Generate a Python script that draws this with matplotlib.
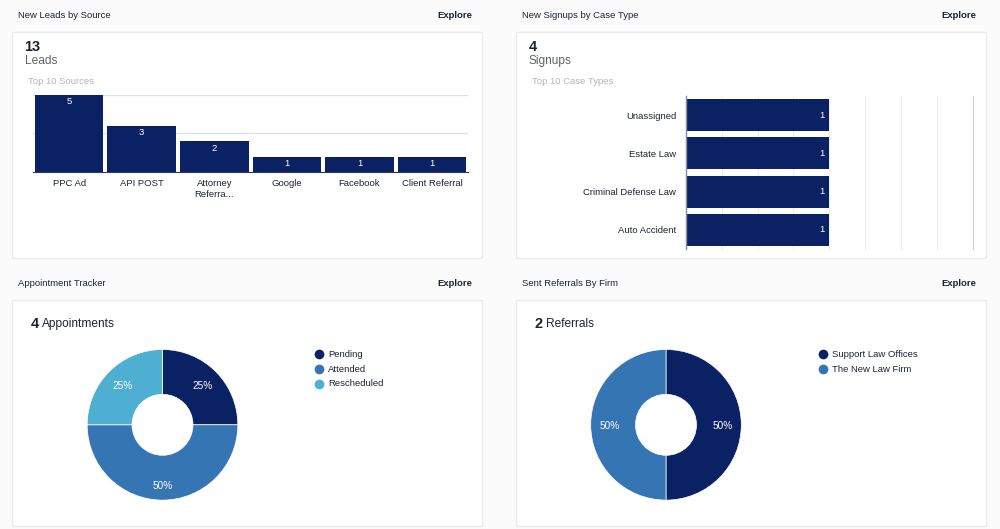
import matplotlib
matplotlib.use("Agg")
import matplotlib.pyplot as plt
from matplotlib.patches import Rectangle

plt.rcParams['font.family'] = ['Liberation Sans', 'DejaVu Sans']

lead_sources = ['PPC Ad', 'API POST', 'Attorney\nReferra...', 'Google', 'Facebook', 'Client Referral']
lead_values = [5, 3, 2, 1, 1, 1]
case_types = ['Unassigned', 'Estate Law', 'Criminal Defense Law', 'Auto Accident']
case_values = [1, 1, 1, 1]
appt_labels = ['Pending', 'Attended', 'Rescheduled']
appt_values = [25, 50, 25]
firm_labels = ['Support Law Offices', 'The New Law Firm']
firm_values = [50, 50]

NAVY = '#0a2163'
BLUE = '#3575b3'
SKY = '#4fafd3'
INK = '#1c2433'
FS = 6.8
W, H = 1000, 529

fig = plt.figure(figsize=(10, 5.29), dpi=100, facecolor='#fbfbfb')

def px_axes(x0, y0, x1, y1, **kw):
    return fig.add_axes([x0 / W, 1 - y1 / H, (x1 - x0) / W, (y1 - y0) / H], **kw)

bg = fig.add_axes([0, 0, 1, 1])
bg.set_xlim(0, W)
bg.set_ylim(H, 0)
bg.axis('off')

cards = [(11.5, 31.5, 482, 257.5), (515.5, 31.5, 985.5, 257.5), (11.5, 299.5, 482, 526), (515.5, 299.5, 985.5, 526)]
for x0, y0, x1, y1 in cards:
    bg.add_patch(Rectangle((x0, y0), x1 - x0, y1 - y0, fc='white', ec='#ebebeb', lw=1))

for x, y, t in [(18, 15, 'New Leads by Source'), (521.5, 15, 'New Signups by Case Type'),
                (18, 283, 'Appointment Tracker'), (521.5, 283, 'Sent Referrals By Firm')]:
    bg.text(x, y, t, fontsize=FS, color=INK, va='center', ha='left')
for x, y in [(472.5, 15), (976, 15), (472.5, 283), (976, 283)]:
    bg.text(x, y, 'Explore', fontsize=FS, color=INK, va='center', ha='right', fontweight='bold')

bg.text(24.5, 47.3, '13', fontsize=10.5, color=INK, va='center', fontweight='bold')
bg.text(25, 61.3, 'Leads', fontsize=8.6, color='#5f6368', va='center')
bg.text(28, 81.3, 'Top 10 Sources', fontsize=FS, color='#b5b5b5', va='center')
bg.text(528.5, 47.3, '4', fontsize=10.5, color=INK, va='center', fontweight='bold')
bg.text(528.5, 61.3, 'Signups', fontsize=8.6, color='#5f6368', va='center')
bg.text(532, 81.3, 'Top 10 Case Types', fontsize=FS, color='#b5b5b5', va='center')

bg.text(30.5, 323.5, '4', fontsize=10.5, color=INK, va='center', fontweight='bold')
bg.text(42, 323.7, 'Appointments', fontsize=8.6, color=INK, va='center')
bg.text(534.5, 323.5, '2', fontsize=10.5, color=INK, va='center', fontweight='bold')
bg.text(546, 323.7, 'Referrals', fontsize=8.6, color=INK, va='center')

# Column chart
ax = px_axes(32.8, 94.5, 468.3, 172.3)
ax.patch.set_alpha(0)
ax.bar(range(len(lead_values)), lead_values, width=0.945, color=NAVY, zorder=3)
ax.set_xlim(-0.5, 5.5)
ax.set_ylim(0, 5)
ax.set_yticks([0, 2.5, 5])
ax.set_yticklabels([])
ax.grid(axis='y', color='#e2e2e2', lw=1, zorder=0)
ax.tick_params(length=0)
for s in ['top', 'left', 'right']:
    ax.spines[s].set_visible(False)
ax.spines['bottom'].set_color('#333a47')
ax.spines['bottom'].set_linewidth(0.8)
ax.spines['bottom'].set_zorder(4)
ax.set_xticks(range(len(lead_sources)))
ax.set_xticklabels(lead_sources, fontsize=FS, color=INK, linespacing=1.2)
ax.tick_params(axis='x', pad=5)
for i, v in enumerate(lead_values):
    ax.annotate(str(v), (i, v), xytext=(0, -2.5), textcoords='offset pixels', ha='center', va='top',
                fontsize=FS, color='white', zorder=5)

# Horizontal bar chart
ax = px_axes(686, 96, 972.5, 249)
ax.patch.set_alpha(0)
ax.barh(range(len(case_values)), case_values, height=0.84, color=NAVY, zorder=3)
ax.set_xlim(0, 2)
ax.set_ylim(3.5, -0.5)
ax.set_xticks([0.25 * i for i in range(9)])
ax.set_xticklabels([])
ax.grid(axis='x', color='#ececec', lw=0.8, zorder=0, clip_on=False)
ax.get_xgridlines()[-1].set_color('#cfcfcf')
ax.tick_params(length=0)
for s in ['top', 'bottom', 'right']:
    ax.spines[s].set_visible(False)
ax.spines['left'].set_color('#8a8f98')
ax.spines['left'].set_linewidth(1)
ax.spines['left'].set_zorder(4)
ax.set_yticks(range(len(case_types)))
ax.set_yticklabels(case_types, fontsize=FS, color=INK)
ax.tick_params(axis='y', pad=7)
for i, v in enumerate(case_values):
    ax.annotate(str(v), (v, i), xytext=(-5, 0), textcoords='offset pixels', ha='right', va='center',
                fontsize=FS, color='white', zorder=5)

# Donuts
def donut(cx, values, colors, labels, legend_x):
    cy, r = 424.8, 75.3
    a = px_axes(cx - r, cy - r, cx + r, cy + r)
    _, _, pct = a.pie(values, colors=colors, startangle=90, counterclock=False, radius=1,
                      wedgeprops=dict(width=1 - 30.5 / r, edgecolor='white', linewidth=0.5),
                      autopct='%d%%', pctdistance=0.75,
                      textprops=dict(fontsize=7.2, color='white'))
    a.set_xlim(-1, 1)
    a.set_ylim(-1, 1)
    for t in pct:
        t.set_y(t.get_position()[1] - 0.01)
        if len(values) == 3 and t.get_text() == '50%':
            t.set_y(-0.81)
    for i, (lab, col) in enumerate(zip(labels, colors)):
        y = 354 + 14.85 * i
        bg.scatter([legend_x], [y], s=49, color=col, linewidths=0)
        bg.text(legend_x + 9, y + 0.3, lab, fontsize=FS, color=INK, va='center', ha='left')

donut(162.5, appt_values, [NAVY, BLUE, SKY], appt_labels, 319)
donut(666, firm_values, [NAVY, BLUE], firm_labels, 822.5)

fig.savefig('out.png', dpi=100, facecolor=fig.get_facecolor())
